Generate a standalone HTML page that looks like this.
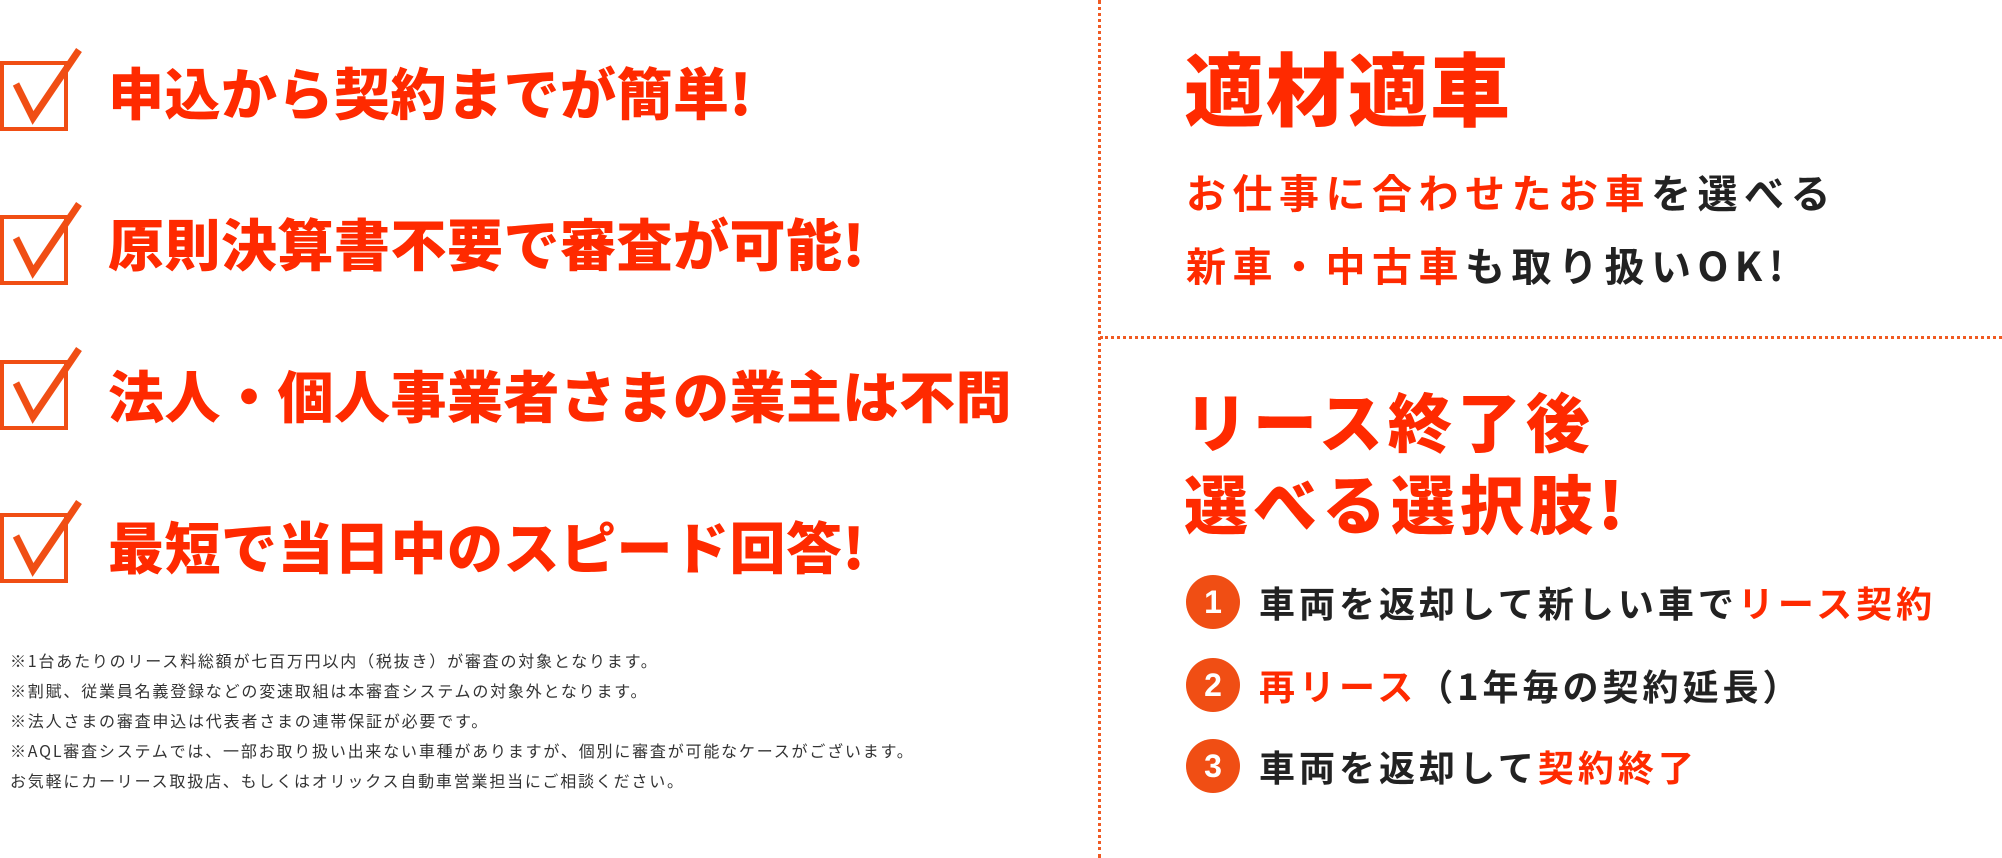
<!DOCTYPE html>
<html><head><meta charset="utf-8"><style>
body{margin:0;width:2002px;height:858px;background:#fff;position:relative;overflow:hidden;font-family:"Liberation Sans","Noto Sans CJK JP",sans-serif;}
.a{position:absolute;white-space:nowrap;}
.h{font-family:"Noto Sans CJK JP",sans-serif;font-weight:900;color:#ff2a00;font-size:56px;line-height:1;letter-spacing:0.5px;}
.note{font-family:"Noto Sans CJK JP",sans-serif;font-size:16px;color:#333;line-height:1;letter-spacing:1.8px;}
.r{color:#ff2a00}.k{color:#222}
.m{font-family:"Noto Sans CJK JP",sans-serif;font-weight:700;font-size:40px;letter-spacing:6.5px;line-height:1;}
.it{font-family:"Noto Sans CJK JP",sans-serif;font-weight:700;font-size:36px;letter-spacing:4px;line-height:1;}
.c{position:absolute;left:1186px;width:54px;height:54px;border-radius:50%;background:#f04e14;color:#fff;font:700 32px "Liberation Sans",sans-serif;text-align:center;line-height:54px;}
</style></head><body>
<div class="a" style="left:1098px;top:0;height:858px;border-left:3px dotted #f05a22"></div>
<div class="a" style="left:1100px;top:336px;width:902px;border-top:3px dotted #f05a22"></div>

<svg class="a" style="left:0;top:44px" width="90" height="580" viewBox="0 0 90 580">
<g fill="none" stroke="#f04e14" stroke-width="4">
<rect x="2" y="19" width="64" height="66"/><polyline points="16,40 33,74 79,6" stroke-width="7"/>
<rect x="2" y="173" width="64" height="66"/><polyline points="16,194 33,228 79,160" stroke-width="7"/>
<rect x="2" y="318" width="64" height="66"/><polyline points="16,339 33,373 79,305" stroke-width="7"/>
<rect x="2" y="471" width="64" height="66"/><polyline points="16,492 33,526 79,458" stroke-width="7"/>
</g></svg>

<div class="a h" style="left:108px;top:64px">申込から契約までが簡単!</div>
<div class="a h" style="left:108px;top:215px">原則決算書不要で審査が可能!</div>
<div class="a h" style="left:108px;top:367px">法人・個人事業者さまの業主は不問</div>
<div class="a h" style="left:108px;top:518px">最短で当日中のスピード回答!</div>

<div class="a note" style="left:10px;top:652px">※1台あたりのリース料総額が七百万円以内（税抜き）が審査の対象となります。</div>
<div class="a note" style="left:10px;top:682px">※割賦、従業員名義登録などの変速取組は本審査システムの対象外となります。</div>
<div class="a note" style="left:10px;top:712px">※法人さまの審査申込は代表者さまの連帯保証が必要です。</div>
<div class="a note" style="left:10px;top:742px">※AQL審査システムでは、一部お取り扱い出来ない車種がありますが、個別に審査が可能なケースがございます。</div>
<div class="a note" style="left:10px;top:772px">お気軽にカーリース取扱店、もしくはオリックス自動車営業担当にご相談ください。</div>

<div class="a h" style="left:1184px;top:46px;font-size:80px;letter-spacing:2px">適材適車</div>
<div class="a m" style="left:1186px;top:171px"><span class="r">お仕事に合わせたお車</span><span class="k">を選べる</span></div>
<div class="a m" style="left:1186px;top:244px"><span class="r">新車・中古車</span><span class="k">も取り扱いOK!</span></div>

<div class="a h" style="left:1184px;top:388px;font-size:64px;letter-spacing:5px">リース終了後</div>
<div class="a h" style="left:1184px;top:470px;font-size:64px;letter-spacing:5px">選べる選択肢!</div>

<div class="c" style="top:575px">1</div>
<div class="c" style="top:658px">2</div>
<div class="c" style="top:739px">3</div>
<div class="a it" style="left:1259px;top:584px"><span class="k">車両を返却して新しい車で</span><span class="r">リース契約</span></div>
<div class="a it" style="left:1259px;top:667px"><span class="r">再リース</span><span class="k">（1年毎の契約延長）</span></div>
<div class="a it" style="left:1259px;top:748px"><span class="k">車両を返却して</span><span class="r">契約終了</span></div>
</body></html>
